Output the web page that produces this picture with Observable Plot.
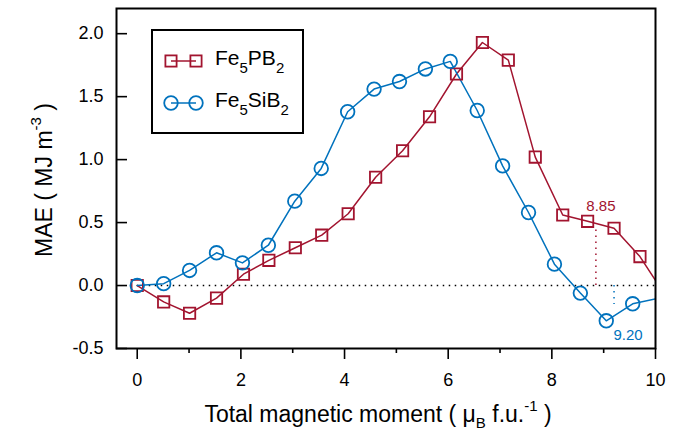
<!DOCTYPE html>
<html><head><meta charset="utf-8">
<script src="https://cdn.jsdelivr.net/npm/d3@7"></script>
<script src="https://cdn.jsdelivr.net/npm/@observablehq/plot@0.6"></script>
<style>
body{margin:0;background:#fff}
#chart{position:relative;width:695px;height:441px}
svg text{font-family:"Liberation Sans",Arial,Helvetica,sans-serif}
</style>
</head><body><div id="chart"></div>
<script>
// ---- data ----
const seriesNames = ["Fe5PB2", "Fe5SiB2"];
const seriesColors = ["#A2142F", "#0072BD"];
const pbX = [0, 0.51, 1.01, 1.53, 2.05, 2.54, 3.05, 3.56, 4.07, 4.6, 5.12, 5.64, 6.16, 6.66, 7.16, 7.68, 8.21, 8.69, 9.2, 9.7, 10.21];
const pbY = [0, -0.13, -0.22, -0.10, 0.09, 0.20, 0.30, 0.40, 0.57, 0.86, 1.07, 1.34, 1.68, 1.93, 1.79, 1.02, 0.56, 0.51, 0.455, 0.23, -0.09];
const siX = [0, 0.51, 1.01, 1.53, 2.03, 2.53, 3.04, 3.55, 4.06, 4.57, 5.06, 5.56, 6.04, 6.56, 7.05, 7.55, 8.05, 8.55, 9.05, 9.56, 10.06];
const siY = [0, 0.015, 0.12, 0.26, 0.18, 0.32, 0.67, 0.93, 1.38, 1.56, 1.62, 1.72, 1.78, 1.39, 0.95, 0.58, 0.17, -0.06, -0.28, -0.145, -0.10];
const crossX = [8.85, 9.20];
const crossY = [0.46, -0.15];
const crossLabels = ["8.85", "9.20"];
const xTicks = [0, 2, 4, 6, 8, 10];
const xMinorTicks = [1, 3, 5, 7, 9];
const yTicks = [-0.5, 0, 0.5, 1.0, 1.5, 2.0];
const xDomain = [-0.4, 10];
const yDomain = [-0.5, 2.2];

// ---- build tables ----
const pb = pbX.map((x, i) => ({x, y: pbY[i]}));
const si = siX.map((x, i) => ({x, y: siY[i]}));
const cross = crossX.map((x, i) => ({x, y: crossY[i], label: crossLabels[i], color: seriesColors[i]}));
const zero = [{x1: xTicks[0], x2: xTicks[xTicks.length - 1], y: 0}];
const inside = d => d.x <= xDomain[1];
const font = "Liberation Sans, Arial, sans-serif";

const plot = Plot.plot({
  width: 695, height: 441,
  marginLeft: 116, marginRight: 40, marginTop: 8, marginBottom: 93,
  style: {fontFamily: font, background: "white", color: "black"},
  x: {domain: xDomain, axis: null},
  y: {domain: yDomain, axis: null},
  marks: [
    Plot.ruleY(zero, {x1: "x1", x2: "x2", y: "y", stroke: "black", strokeWidth: 1.5, strokeDasharray: "1.5,4.5"}),
    Plot.ruleX(cross, {x: "x", y1: 0, y2: "y", stroke: "color", strokeWidth: 1.5, strokeDasharray: "1.5,4.5"}),
    Plot.line(pb, {x: "x", y: "y", stroke: seriesColors[0], strokeWidth: 1.5, clip: true}),
    Plot.line(si, {x: "x", y: "y", stroke: seriesColors[1], strokeWidth: 1.5, clip: true}),
    Plot.dot(pb, {x: "x", y: "y", filter: inside, symbol: "square", r: 6.4, stroke: seriesColors[0], strokeWidth: 1.8, fill: "none"}),
    Plot.dot(si, {x: "x", y: "y", filter: inside, symbol: "circle", r: 6.8, stroke: seriesColors[1], strokeWidth: 1.8, fill: "none"}),
    Plot.text([cross[0]], {x: "x", y: "y", text: "label", fill: "color", fontSize: 15, dx: 5, dy: -17, lineAnchor: "bottom", textAnchor: "middle"}),
    Plot.text([cross[1]], {x: "x", y: "y", text: "label", fill: "color", fontSize: 15, dx: 14, dy: 36, lineAnchor: "bottom", textAnchor: "middle"}),
    Plot.frame({stroke: "black", strokeWidth: 2}),
    Plot.axisX({ticks: xTicks, tickSize: 11, tickPadding: 14, fontSize: 18, label: null, strokeWidth: 1.6}),
    Plot.axisX({ticks: xMinorTicks, tickSize: 5, tickFormat: () => "", label: null, strokeWidth: 1.6}),
    Plot.axisY({ticks: yTicks, tickSize: 0, tickPadding: 13, fontSize: 18, label: null, tickFormat: d => d.toFixed(1)}),
    Plot.axisY({ticks: yTicks, tickSize: 11, dx: 11, tickFormat: () => "", label: null, strokeWidth: 1.6})
  ]
});
document.getElementById("chart").appendChild(plot);

// ---- titles & legend ----
const svg = d3.select(plot);
const xt = svg.append("text").attr("x", 378).attr("y", 422).attr("text-anchor", "middle")
  .attr("font-size", 23).attr("fill", "black").style("white-space", "pre");
xt.append("tspan").text("Total magnetic moment ( \u03BC");
xt.append("tspan").attr("font-size", 15).attr("dy", 6).text("B");
xt.append("tspan").attr("dy", -6).text(" f.u.");
xt.append("tspan").attr("font-size", 15).attr("dy", -11).text("-1");
xt.append("tspan").attr("dy", 11).text(" )");

const yt = svg.append("text").attr("transform", "translate(52,180) rotate(-90)").attr("text-anchor", "middle")
  .attr("font-size", 23).attr("fill", "black").style("white-space", "pre");
yt.append("tspan").text("MAE ( MJ m");
yt.append("tspan").attr("font-size", 15).attr("dy", -11).text("-3");
yt.append("tspan").attr("dy", 11).text(" )");

const lg = svg.append("g");
lg.append("rect").attr("x", 152).attr("y", 30).attr("width", 151).attr("height", 103)
  .attr("fill", "white").attr("stroke", "black").attr("stroke-width", 2);
const rows = [
  {y: 61, parts: [["Fe", 0], ["5", 1], ["PB", 0], ["2", 1]], sym: "square", color: seriesColors[0]},
  {y: 103, parts: [["Fe", 0], ["5", 1], ["SiB", 0], ["2", 1]], sym: "circle", color: seriesColors[1]}
];
rows.forEach(r => {
  lg.append("line").attr("x1", 171).attr("x2", 196).attr("y1", r.y).attr("y2", r.y)
    .attr("stroke", r.color).attr("stroke-width", 1.5);
  [171, 196].forEach(cx => {
    if (r.sym === "square") {
      lg.append("rect").attr("x", cx - 5.6).attr("y", r.y - 5.6).attr("width", 11.2).attr("height", 11.2)
        .attr("fill", "none").attr("stroke", r.color).attr("stroke-width", 1.8);
    } else {
      lg.append("circle").attr("cx", cx).attr("cy", r.y).attr("r", 6.8)
        .attr("fill", "none").attr("stroke", r.color).attr("stroke-width", 1.8);
    }
  });
  const t = lg.append("text").attr("x", 215).attr("y", r.y + 4).attr("font-size", 21)
    .attr("fill", "black").attr("text-anchor", "start");
  let sub = 0;
  r.parts.forEach(([s, isSub]) => {
    const sp = t.append("tspan").text(s);
    const dy = (isSub ? 8 : 0) - sub;
    if (dy) sp.attr("dy", dy);
    if (isSub) sp.attr("font-size", 15);
    sub = isSub ? 8 : 0;
  });
});
</script>
</body></html>
